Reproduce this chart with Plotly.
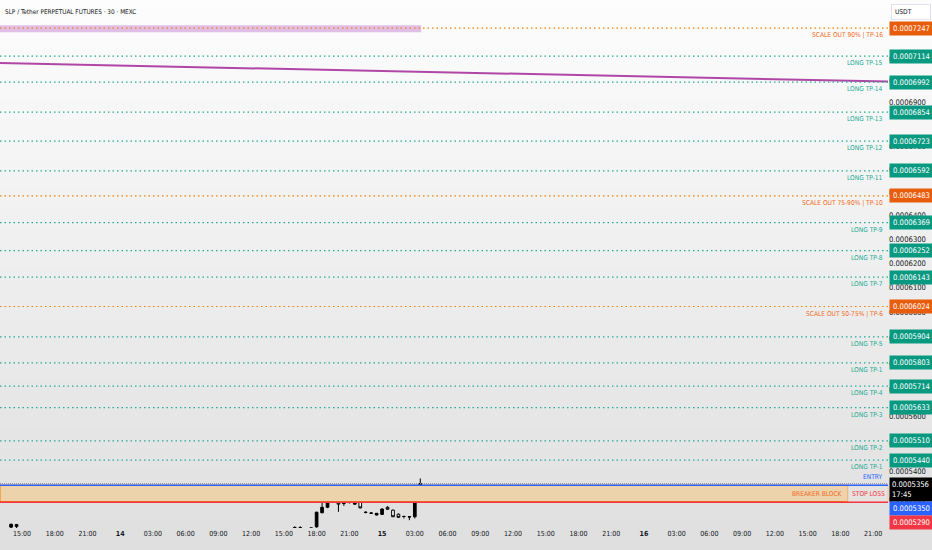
import numpy as np
import plotly.graph_objects as go

# 30m candles that fall inside the visible price window
candle_time = ["2025-01-13 14:00", "2025-01-13 14:30",
               "2025-01-14 16:00", "2025-01-14 16:30", "2025-01-14 17:30",
               "2025-01-14 18:00", "2025-01-14 18:30", "2025-01-14 19:00",
               "2025-01-14 19:30", "2025-01-14 20:00", "2025-01-14 20:30",
               "2025-01-14 21:00", "2025-01-14 21:30", "2025-01-14 22:00",
               "2025-01-14 22:30", "2025-01-14 23:00", "2025-01-14 23:30",
               "2025-01-15 00:00", "2025-01-15 00:30", "2025-01-15 01:00",
               "2025-01-15 01:30", "2025-01-15 02:00", "2025-01-15 02:30",
               "2025-01-15 03:00", "2025-01-15 03:30"]
candle_open = [0.0005203, 0.0005212, 0.0005200, 0.0005201, 0.0005199,
               0.0005204, 0.0005253, 0.0005272, 0.0005294, 0.0005301,
               0.0005285, 0.0005291, 0.0005283, 0.0005289, 0.0005255,
               0.0005251, 0.0005245, 0.0005247, 0.0005272, 0.0005262,
               0.0005248, 0.0005240, 0.0005238, 0.0005239, 0.0005330]
candle_high = [0.0005215, 0.0005214, 0.0005206, 0.0005206, 0.0005200,
               0.0005256, 0.0005291, 0.0005323, 0.0005305, 0.0005304,
               0.0005297, 0.0005298, 0.0005291, 0.0005291, 0.0005258,
               0.0005254, 0.0005252, 0.0005268, 0.0005276, 0.0005264,
               0.0005250, 0.0005242, 0.0005240, 0.0005332, 0.0005374]
candle_low = [0.0005200, 0.0005199, 0.0005199, 0.0005197, 0.0005197,
              0.0005201, 0.0005251, 0.0005269, 0.0005289, 0.0005256,
              0.0005277, 0.0005285, 0.0005281, 0.0005268, 0.0005251,
              0.0005249, 0.0005244, 0.0005245, 0.0005264, 0.0005238,
              0.0005235, 0.0005233, 0.0005227, 0.0005233, 0.0005328]
candle_close = [0.0005213, 0.0005205, 0.0005201, 0.0005200, 0.0005200,
                0.0005255, 0.0005272, 0.0005291, 0.0005301, 0.0005283,
                0.0005291, 0.0005292, 0.0005289, 0.0005270, 0.0005254,
                0.0005252, 0.0005251, 0.0005266, 0.0005265, 0.0005239,
                0.0005237, 0.0005240, 0.0005239, 0.0005330, 0.0005356]

# take-profit levels
level_prices = [0.0007247, 0.0007114, 0.0006992, 0.0006854, 0.0006723,
                0.0006592, 0.0006483, 0.0006369, 0.0006252, 0.0006143,
                0.0006024, 0.0005904, 0.0005803, 0.0005714, 0.0005633,
                0.0005510, 0.0005440]
level_labels = ["SCALE OUT 90% | TP-16", "LONG TP-15", "LONG TP-14",
                "LONG TP-13", "LONG TP-12", "LONG TP-11",
                "SCALE OUT 75-90% | TP-10", "LONG TP-9", "LONG TP-8",
                "LONG TP-7", "SCALE OUT 50-75% | TP-6", "LONG TP-5",
                "LONG TP-1", "LONG TP-4", "LONG TP-3", "LONG TP-2",
                "LONG TP-1"]
level_kind = ["scale", "long", "long", "long", "long", "long", "scale",
              "long", "long", "long", "scale", "long", "long", "long",
              "long", "long", "long"]

entry_price = 0.0005350
stop_price = 0.0005290
last_price = 0.0005356
countdown = "17:45"

# purple trend line (ends at the window edges)
trend_x = ["2025-01-13 12:59", "2025-01-16 22:22"]
trend_y = [0.0007081, 0.0006995]

# pink zone at the top
zone_x = ["2025-01-13 12:59", "2025-01-15 03:35"]
zone_y = [0.0007228, 0.0007261]

tick_times = ["2025-01-13 15:00", "2025-01-13 18:00", "2025-01-13 21:00",
              "2025-01-14 00:00", "2025-01-14 03:00", "2025-01-14 06:00",
              "2025-01-14 09:00", "2025-01-14 12:00", "2025-01-14 15:00",
              "2025-01-14 18:00", "2025-01-14 21:00", "2025-01-15 00:00",
              "2025-01-15 03:00", "2025-01-15 06:00", "2025-01-15 09:00",
              "2025-01-15 12:00", "2025-01-15 15:00", "2025-01-15 18:00",
              "2025-01-15 21:00", "2025-01-16 00:00", "2025-01-16 03:00",
              "2025-01-16 06:00", "2025-01-16 09:00", "2025-01-16 12:00",
              "2025-01-16 15:00", "2025-01-16 18:00", "2025-01-16 21:00"]
tick_text = ["15:00", "18:00", "21:00", "<b>14</b>", "03:00", "06:00",
             "09:00", "12:00", "15:00", "18:00", "21:00", "<b>15</b>",
             "03:00", "06:00", "09:00", "12:00", "15:00", "18:00", "21:00",
             "<b>16</b>", "03:00", "06:00", "09:00", "12:00", "15:00",
             "18:00", "21:00"]

price_ticks = [0.00053, 0.00054, 0.00055, 0.00056, 0.00057, 0.00058,
               0.00059, 0.00060, 0.00061, 0.00062, 0.00063, 0.00064,
               0.00065, 0.00066, 0.00067, 0.00069, 0.00070, 0.00071]

FONT = "DejaVu Sans Condensed, Liberation Sans Narrow, sans-serif"
TEAL_LINE = "#22ab94"
TEAL_BOX = "#089981"
ORANGE_LINE = "#f57c00"
ORANGE_TEXT = "#f26a22"
ORANGE_BOX = "#e85d0c"
LBL = 6.6
PX = 7.6

W, H = 932, 550
PLOT_H = 528

fig = go.Figure()

fig.add_trace(go.Candlestick(
    x=candle_time, open=candle_open, high=candle_high,
    low=candle_low, close=candle_close,
    increasing=dict(line=dict(color="#000000", width=1), fillcolor="#000000"),
    decreasing=dict(line=dict(color="#000000", width=1), fillcolor="#ffffff"),
    hoverinfo="skip",
))

fig.add_trace(go.Scatter(
    x=trend_x, y=trend_y, mode="lines",
    line=dict(color="#b047a6", width=2), hoverinfo="skip",
))

shapes = []
annotations = []

# soft vertical gradient behind everything
n_bands = 55
for i in range(n_bands):
    py0 = i * H / n_bands
    py1 = (i + 1) * H / n_bands
    g = int(round(253 - 30 * (py0 + py1) / 2 / H))
    shapes.append(dict(type="rect", xref="paper", yref="paper",
                       x0=0, x1=W / (W - 44) + 0.01,
                       y0=(PLOT_H - py1) / PLOT_H, y1=(PLOT_H - py0) / PLOT_H + 0.002,
                       fillcolor=f"rgb({g},{g},{g})", line=dict(width=0),
                       layer="below"))

shapes.append(dict(type="rect", xref="x", yref="y",
                   x0=zone_x[0], x1=zone_x[1], y0=zone_y[0], y1=zone_y[1],
                   fillcolor="rgba(206,150,220,0.6)", line=dict(width=0),
                   layer="below"))

for p, lab, kind in zip(level_prices, level_labels, level_kind):
    lc = ORANGE_LINE if kind == "scale" else TEAL_LINE
    tc = ORANGE_TEXT if kind == "scale" else TEAL_LINE
    bc = ORANGE_BOX if kind == "scale" else TEAL_BOX
    shapes.append(dict(type="line", xref="paper", yref="y", x0=0, x1=1,
                       y0=p, y1=p, line=dict(color=lc, width=1.2, dash="1.5px,3px")))
    annotations.append(dict(xref="paper", yref="y", x=1, y=np.log10(p),
                            xanchor="right", yanchor="middle", xshift=-3, yshift=-7,
                            text=lab, showarrow=False,
                            font=dict(family=FONT, size=LBL, color=tc)))
    annotations.append(dict(xref="paper", yref="y", x=1, y=np.log10(p),
                            xanchor="left", yanchor="middle", xshift=1,
                            text=f"{p:.7f}", showarrow=False, bgcolor=bc,
                            borderpad=2, width=39,
                            font=dict(family=FONT, size=PX, color="#ffffff")))

# breaker block and stop-loss cell
bb_right = 848 / 888
shapes.append(dict(type="rect", xref="paper", yref="y", x0=0, x1=bb_right,
                   y0=stop_price * 1.0004, y1=entry_price,
                   fillcolor="#ecd3ab", line=dict(color="#f57c00", width=1)))
shapes.append(dict(type="rect", xref="paper", yref="y", x0=bb_right, x1=1,
                   y0=stop_price, y1=entry_price,
                   fillcolor="#e6e2df", line=dict(color="#efc7a0", width=1)))
shapes.append(dict(type="line", xref="paper", yref="y", x0=0, x1=1,
                   y0=last_price, y1=last_price,
                   line=dict(color="#9598a1", width=1, dash="1px,1px")))
shapes.append(dict(type="line", xref="paper", yref="y", x0=0, x1=1,
                   y0=entry_price, y1=entry_price,
                   line=dict(color="#2962ff", width=1.5)))
shapes.append(dict(type="line", xref="paper", yref="y", x0=0, x1=1,
                   y0=stop_price, y1=stop_price,
                   line=dict(color="#f23645", width=1.5)))

mid_bb = np.log10(np.sqrt(entry_price * stop_price))
annotations.append(dict(xref="paper", yref="y", x=bb_right, y=mid_bb,
                        xanchor="right", xshift=-3, text="BREAKER BLOCK",
                        showarrow=False,
                        font=dict(family=FONT, size=LBL, color=ORANGE_TEXT)))
annotations.append(dict(xref="paper", yref="y", x=(bb_right + 1) / 2, y=mid_bb,
                        xanchor="center", text="STOP LOSS", showarrow=False,
                        font=dict(family=FONT, size=LBL, color="#f23645")))
annotations.append(dict(xref="paper", yref="y", x=1, y=np.log10(entry_price),
                        xanchor="right", xshift=-3, yshift=8, text="ENTRY",
                        showarrow=False,
                        font=dict(family=FONT, size=LBL, color="#2962ff")))

# right axis price cells near the current price
annotations.append(dict(xref="paper", yref="y", x=1, y=np.log10(last_price),
                        xanchor="left", yanchor="middle", xshift=1, yshift=-6,
                        text=f"{last_price:.7f}<br>{countdown}", align="left",
                        showarrow=False, bgcolor="#000000", borderpad=2, width=39,
                        font=dict(family=FONT, size=PX, color="#ffffff")))
annotations.append(dict(xref="paper", yref="y", x=1, y=np.log10(entry_price),
                        xanchor="left", yanchor="middle", xshift=1, yshift=-23,
                        text=f"{entry_price:.7f}", showarrow=False,
                        bgcolor="#2962ff", borderpad=2, width=39,
                        font=dict(family=FONT, size=PX, color="#ffffff")))
annotations.append(dict(xref="paper", yref="y", x=1, y=np.log10(stop_price),
                        xanchor="left", yanchor="middle", xshift=1, yshift=-20,
                        text=f"{stop_price:.7f}", showarrow=False,
                        bgcolor="#f23645", borderpad=2, width=39,
                        font=dict(family=FONT, size=PX, color="#ffffff")))

annotations.append(dict(xref="paper", yref="paper", x=1, y=1, xanchor="left",
                        yanchor="top", xshift=3, yshift=-4, text="USDT",
                        showarrow=False, bgcolor="#ffffff", bordercolor="#e0e3eb",
                        borderwidth=1, borderpad=3, width=32, align="left",
                        font=dict(family=FONT, size=LBL, color="#131722")))
annotations.append(dict(xref="paper", yref="paper", x=0, y=1, xanchor="left",
                        yanchor="top", xshift=3, yshift=-6,
                        text="SLP / Tether PERPETUAL FUTURES · 30 · MEXC",
                        showarrow=False,
                        font=dict(family=FONT, size=6.4, color="#131722")))

fig.update_layout(
    width=W, height=H,
    margin=dict(l=0, r=44, t=0, b=22, autoexpand=False),
    paper_bgcolor="#e8e8e8", plot_bgcolor="rgba(0,0,0,0)",
    showlegend=False,
    shapes=shapes, annotations=annotations,
    xaxis=dict(type="date", range=["2025-01-13 12:59", "2025-01-16 22:22"],
               tickvals=tick_times, ticktext=tick_text, showgrid=False,
               zeroline=False, ticks="", rangeslider=dict(visible=False),
               tickfont=dict(family=FONT, size=7, color="#131722")),
    yaxis=dict(type="log", side="right",
               range=[np.log10(0.00052), np.log10(0.0007384)],
               tickvals=price_ticks, ticktext=[f"{v:.7f}" for v in price_ticks],
               showgrid=False, zeroline=False, ticks="",
               tickfont=dict(family=FONT, size=PX, color="#131722")),
)

# page has an 8px body margin by default; drop it so the figure fills the window
fig.write_html("out.html", config={"displayModeBar": False},
               post_script="document.body.style.margin='0';")
